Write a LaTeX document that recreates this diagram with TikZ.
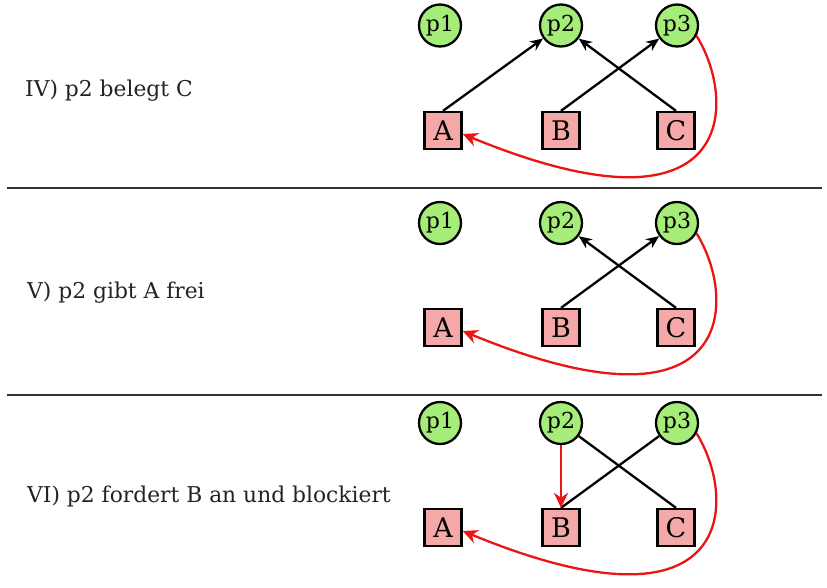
\documentclass[tikz,border=0pt]{standalone}
\usepackage{fontspec}
\setmainfont{DejaVu Serif}
\usetikzlibrary{arrows.meta,calc}
\definecolor{procgreen}{RGB}{166,236,120}
\definecolor{respink}{RGB}{244,168,168}
\definecolor{sepgray}{RGB}{50,50,50}
\definecolor{txtgray}{RGB}{35,35,35}
\definecolor{redline}{RGB}{235,20,20}
\tikzset{
  proc/.style={circle,draw=black,line width=2.3pt,fill=procgreen,minimum size=42pt,inner sep=0pt,font=\fontsize{22}{22}\selectfont},
  res/.style={rectangle,draw=black,line width=2.3pt,fill=respink,minimum size=37pt,inner sep=0pt,font=\fontsize{27}{27}\selectfont},
  lbl/.style={anchor=base west,inner sep=0pt,text=txtgray,font=\fontsize{21.8}{24}\selectfont},
  sep/.style={draw=sepgray,line width=2.6pt},
  owns/.style={draw=black,line width=2.3pt,-{Stealth[length=13pt,width=11pt]}},
  plain/.style={draw=black,line width=2.3pt},
  req/.style={draw=redline,line width=2.3pt,-{Stealth[length=15pt,width=14pt]}}
}
\begin{document}
\begin{tikzpicture}[x=1pt,y=-1pt]
\useasboundingbox (0,0) rectangle (827,587);
% separators
\coordinate (s1l) at (7,188); \coordinate (s1r) at (822,188);
\coordinate (s2l) at (7,395); \coordinate (s2r) at (822,395);
\draw[sep] (s1l) -- (s1r);
\draw[sep] (s2l) -- (s2r);

% ---------- panel IV ----------
\node[lbl] (t1) at (25,96) {IV) p2 belegt C};
\node[proc] (a1) at (440,25.5) {p1};
\node[proc] (a2) at (561,25.5) {p2};
\node[proc] (a3) at (677,25.5) {p3};
\node[res] (r1) at (443,130.5) {A};
\node[res] (r2) at (561,130.5) {B};
\node[res] (r3) at (676,130.5) {C};
\draw[owns] (r1.north) -- (a2);
\draw[owns] (r2.north) -- (a3);
\draw[owns] (r3.north) -- (a2);
\draw[req] (a3.-28) .. controls +(40,64) and +(277,114) .. (r1.-10);

% ---------- panel V ----------
\node[lbl] (t2) at (27,298) {V) p2 gibt A frei};
\node[proc] (b1) at (440,223) {p1};
\node[proc] (b2) at (561,223) {p2};
\node[proc] (b3) at (677,223) {p3};
\node[res] (q1) at (443,327.5) {A};
\node[res] (q2) at (561,327.5) {B};
\node[res] (q3) at (676,327.5) {C};
\draw[owns] (q2.north) -- (b3);
\draw[owns] (q3.north) -- (b2);
\draw[req] (b3.-28) .. controls +(40,64) and +(277,114) .. (q1.-10);

% ---------- panel VI ----------
\node[lbl] (t3) at (27,502) {VI) p2 fordert B an und blockiert};
\node[proc] (c1) at (440,423) {p1};
\node[proc] (c2) at (561,423) {p2};
\node[proc] (c3) at (677,423) {p3};
\node[res] (u1) at (443,527.5) {A};
\node[res] (u2) at (561,527.5) {B};
\node[res] (u3) at (676,527.5) {C};
\draw[plain] (c3) -- (u2.north);
\draw[plain] (c2) -- (u3.north);
\draw[req] (c2.south) -- (u2.north);
\draw[req] (c3.-28) .. controls +(40,64) and +(277,114) .. (u1.-10);
\end{tikzpicture}
\end{document}
